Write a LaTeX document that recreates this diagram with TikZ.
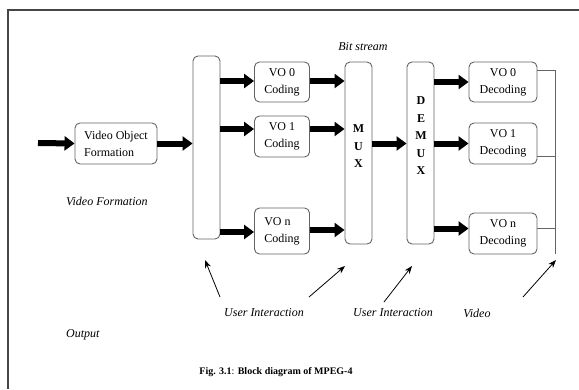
\documentclass[tikz,border=0pt]{standalone}
\usepackage{fontspec}
\setmainfont{Liberation Serif}
\usetikzlibrary{arrows.meta}
\definecolor{boxline}{RGB}{100, 100, 100}
\definecolor{frameline}{RGB}{70, 70, 70}
\tikzset{
  block/.style={draw=boxline,line width=0.9pt,rounded corners=5pt,inner sep=0pt,
    font=\fontsize{12}{17}\selectfont,align=center},
  bar/.style={block,minimum width=27pt,minimum height=182pt},
  flow/.style={line width=6pt,-{Triangle[length=10pt,width=14pt]}},
  pointer/.style={line width=0.8pt,-{Stealth[length=8pt,width=6pt]}},
  note/.style={font=\fontsize{12}{14}\selectfont\itshape},
}
\begin{document}
\begin{tikzpicture}[x=1pt,y=-1pt]
\useasboundingbox (0,0) rectangle (579,389);
\draw[frameline,line width=1.8pt] (8,389) -- (8,10) -- (579,10);
\node[block,minimum width=82pt,minimum height=41pt,align=left] (vof) at (116,143.5) {Video Object\\Formation};
\node[bar,minimum height=183pt] (split) at (206.5,147.5) {};
\node[block,minimum width=55pt,minimum height=40pt] (c0) at (282,82) {VO 0\\Coding};
\node[block,minimum width=55pt,minimum height=41pt] (c1) at (282,136.5) {VO 1\\Coding};
\node[block,minimum width=55pt,minimum height=46pt,align=left] (cn) at (282,231) {VO n\\Coding};
\node[bar] (mux) at (358.5,153) {};
\node[bar] (demux) at (420.5,153) {};
\node[font=\fontsize{12}{17.5}\selectfont\bfseries,align=center] (muxtxt) at (358.5,146.5) {M\\U\\X};
\node[font=\fontsize{12}{17.5}\selectfont\bfseries,align=center] (demuxtxt) at (421,136) {D\\E\\M\\U\\X};
\node[block,minimum width=68pt,minimum height=40pt] (d0) at (503,82) {VO 0\\Decoding};
\node[block,minimum width=68pt,minimum height=41pt] (d1) at (503,143.5) {VO 1\\Decoding};
\node[block,minimum width=68pt,minimum height=41pt] (dn) at (503,233.5) {VO n\\Decoding};
\coordinate (in) at (38,143);
\draw[flow] (in) -- (vof.west);
\draw[flow] (vof.east) -- (vof.east -| split.west);
\draw[flow] ([yshift=1pt]c0.west -| split.east) -- ([yshift=1pt]c0.west);
\draw[flow] ([yshift=7.5pt]c1.west -| split.east) -- ([yshift=7.5pt]c1.west);
\draw[flow] ([yshift=-1pt]cn.west -| split.east) -- ([yshift=-1pt]cn.west);
\draw[flow] ([yshift=1pt]c0.east) -- ([yshift=1pt]c0.east -| mux.west);
\draw[flow] ([yshift=7.5pt]c1.east) -- ([yshift=7.5pt]c1.east -| mux.west);
\draw[flow] ([yshift=1pt]cn.east) -- ([yshift=1pt]cn.east -| mux.west);
\draw[flow] (vof.east -| mux.east) -- (vof.east -| demux.west);
\draw[flow] (d0.west -| demux.east) -- (d0.west);
\draw[flow] (d1.west -| demux.east) -- (d1.west);
\draw[flow] ([yshift=5pt]dn.west -| demux.east) -- ([yshift=5pt]dn.west);
\coordinate (vtop) at (555,70);
\coordinate (j1) at (555,156);
\coordinate (jn) at (555,228);
\coordinate (vbot) at (555,254);
\draw[boxline,line width=0.9pt] (vtop -| d0.east) -- (vtop) -- (vbot);
\draw[boxline,line width=0.9pt] (j1 -| d1.east) -- (j1);
\draw[boxline,line width=0.9pt] (jn -| dn.east) -- (jn);
\coordinate (ui1) at (220,297);
\coordinate (ui2) at (309,297);
\coordinate (ui3) at (384,302);
\coordinate (vid) at (523,297);
\draw[pointer] (ui1) -- (205,260);
\draw[pointer] (ui2) -- (345,266);
\draw[pointer] (ui3) -- (412,266);
\draw[pointer] (vid) -- (556,260);
\node[note] (bits) at (363,47) {Bit stream};
\node[note,anchor=west,inner sep=0pt] (vform) at (66,201) {Video Formation};
\node[note,anchor=west,inner sep=0pt] (outp) at (66,335) {Output};
\node[note] (uitxt1) at (264,313) {User Interaction};
\node[note] (uitxt2) at (393,313) {User Interaction};
\node[note] (vidtxt) at (477,313) {Video};
\node[font=\fontsize{10}{12}\selectfont] (caption) at (276,372) {\textbf{Fig. 3.1}: \textbf{Block diagram of MPEG-4}};
\end{tikzpicture}
\end{document}
